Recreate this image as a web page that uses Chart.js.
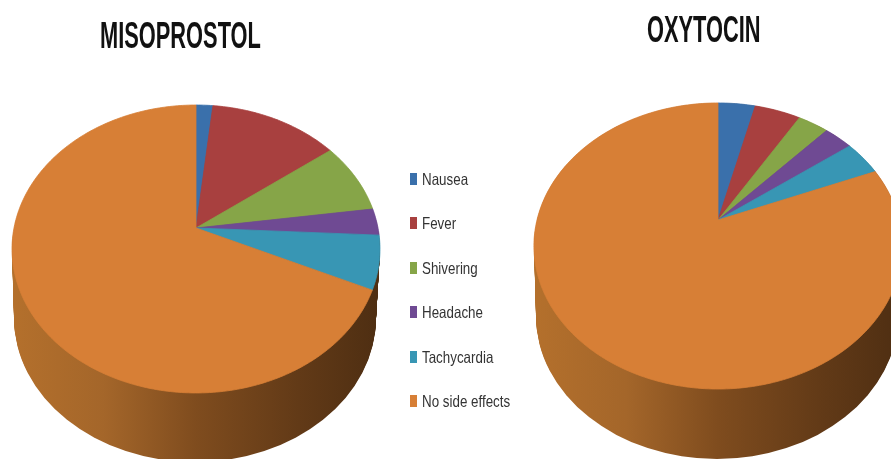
<!DOCTYPE html>
<html>
<head>
<meta charset="utf-8">
<script src="https://cdn.jsdelivr.net/npm/chart.js@4"></script>
<style>
  html, body { margin: 0; background: #fff; overflow: hidden; width: 891px; height: 459px; }
  canvas { position: absolute; top: 0; filter: blur(0.5px); }
  #left-pie { left: 0; }
  #right-pie { left: 525px; }
  .title {
    position: absolute; white-space: nowrap; color: #111; transform-origin: 0 0;
    font: bold 37px "Liberation Sans", sans-serif; transform: scaleX(0.59); filter: blur(0.5px);
  }
  #legend { position: absolute; left: 410px; top: 173px; filter: blur(0.55px); }
  .row { position: relative; height: 44.4px; }
  .swatch { position: absolute; left: 0; top: 0; width: 6.5px; height: 12px; }
  .label {
    position: absolute; left: 12px; top: -3px; white-space: nowrap; color: #333; transform-origin: 0 0;
    font: 16.5px/19px "Liberation Sans", sans-serif; transform: scaleX(0.81);
  }
</style>
</head>
<body>
<canvas id="left-pie" width="400" height="459"></canvas>
<canvas id="right-pie" width="400" height="459"></canvas>
<div class="title" id="left-title" style="left:100px;top:15px"></div>
<div class="title" id="right-title" style="left:647px;top:9px"></div>
<div id="legend"></div>
<script>
const categories = ["Nausea", "Fever", "Shivering", "Headache", "Tachycardia", "No side effects"];
const misoprostolValues = [1.7, 13.1, 8, 3, 6, 68.2];
const oxytocinValues = [3.9, 4.8, 3.2, 3, 4, 81.1];
const sliceColors = ["#3a70ab", "#a8403f", "#86a548", "#6f4a93", "#3896b4", "#d77f36"];
const titles = ["MISOPROSTOL", "OXYTOCIN"];

// the slices lean away from the viewer, so the apex sits above the rim's centre
function project(g, angle) {
  const u = Math.cos(angle), v = Math.sin(angle);
  const w = 1 + g.k * v;
  return [g.ax + g.a * u / w, g.ay + g.b * v / w];
}

function drawSide(ctx, g) {
  const grad = ctx.createLinearGradient(g.ax - g.rx, 0, g.ax + g.rx, 0);
  grad.addColorStop(0, "#b4702c");
  grad.addColorStop(0.25, "#a4662a");
  grad.addColorStop(0.5, "#7f4c1e");
  grad.addColorStop(0.78, "#623a17");
  grad.addColorStop(1, "#4e2e12");
  ctx.fillStyle = grad;
  for (let d = g.depth; d >= 0; d -= 1) {
    const t = d / g.depth;
    ctx.beginPath();
    ctx.ellipse(g.ax - t, g.cy + d, g.rx - 3 * t, g.ry, 0, 0, Math.PI * 2);
    ctx.fill();
  }
}

const tiltedPie = {
  id: "tiltedPie",
  beforeDatasetDraw(chart, args, opts) {
    const { ctx } = chart;
    const g = opts;
    ctx.save();
    drawSide(ctx, g);
    args.meta.data.forEach((arc, i) => {
      ctx.beginPath();
      ctx.moveTo(g.ax, g.ay);
      const steps = Math.max(2, Math.ceil((arc.endAngle - arc.startAngle) * 60));
      for (let s = 0; s <= steps; s++) {
        const p = project(g, arc.startAngle + (arc.endAngle - arc.startAngle) * s / steps);
        ctx.lineTo(p[0], p[1]);
      }
      ctx.closePath();
      ctx.fillStyle = sliceColors[i];
      ctx.strokeStyle = sliceColors[i];
      ctx.lineWidth = 0.8;
      ctx.fill();
      ctx.stroke();
    });
    ctx.restore();
    return false;
  },
};

function makePie(id, values, geom) {
  return new Chart(document.getElementById(id), {
    type: "pie",
    data: {
      labels: categories,
      datasets: [{ data: values, backgroundColor: sliceColors, borderWidth: 0 }],
    },
    options: {
      responsive: false,
      animation: false,
      plugins: {
        tooltip: { enabled: false },
        legend: { display: false },
        tiltedPie: geom,
      },
    },
    plugins: [tiltedPie],
  });
}

// legend text has to be condensed, which the canvas legend can't do
function buildLegend(chart) {
  const items = Chart.overrides.pie.plugins.legend.labels.generateLabels(chart);
  document.getElementById("legend").innerHTML = items.map((it) => `
    <div class="row">
      <div class="swatch" style="background:${it.fillStyle}"></div>
      <div class="label">${it.text}</div>
    </div>`).join("");
}

document.getElementById("left-title").textContent = titles[0];
document.getElementById("right-title").textContent = titles[1];

const leftChart = makePie("left-pie", misoprostolValues,
  { ax: 196, ay: 228, a: 182, b: 140.9, k: -0.1458, rx: 184, ry: 144, cy: 250, depth: 68 });
makePie("right-pie", oxytocinValues,
  { ax: 193, ay: 220, a: 181, b: 138.3, k: -0.1818, rx: 184, ry: 143, cy: 246, depth: 70 });
buildLegend(leftChart);
</script>
</body>
</html>
